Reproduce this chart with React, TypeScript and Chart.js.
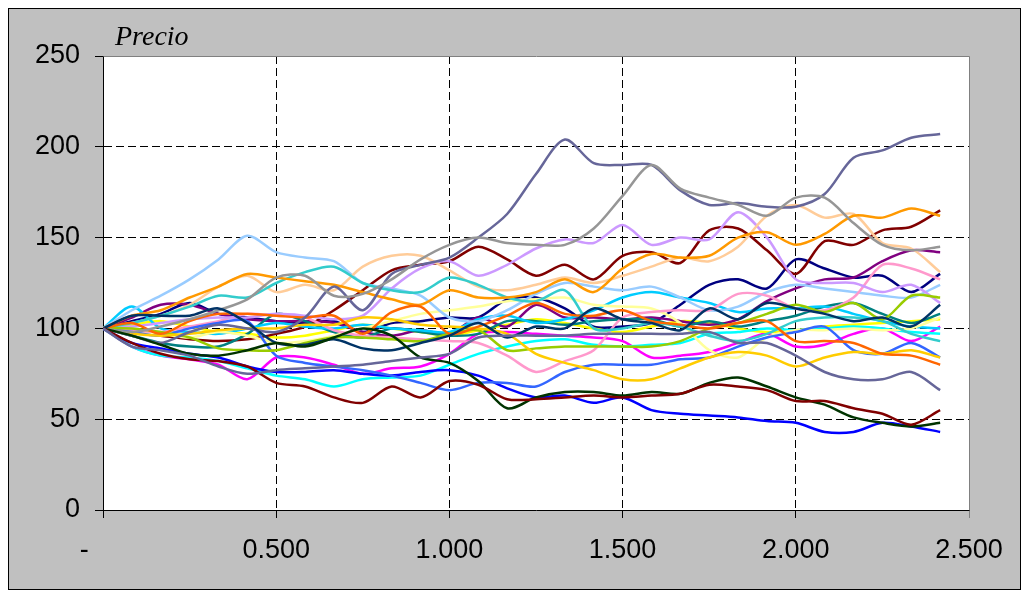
import React, { useEffect, useRef } from "react";
import { Chart, registerables } from "chart.js";

Chart.register(...registerables);

// time in years (monthly steps)
const timeYears = [0, 0.0833, 0.1667, 0.25, 0.3333, 0.4167, 0.5, 0.5833, 0.6667, 0.75, 0.8333, 0.9167, 1.0, 1.0833, 1.1667, 1.25, 1.3333, 1.4167, 1.5, 1.5833, 1.6667, 1.75, 1.8333, 1.9167, 2.0, 2.0833, 2.1667, 2.25, 2.3333, 2.4167];

const yTicks = [0, 50, 100, 150, 200, 250];
const xTicks = [0, 0.5, 1.0, 1.5, 2.0, 2.5];

const pathNavy = [100, 104, 108, 114, 108, 106, 104, 103, 104, 98, 103, 104, 106, 106, 116, 117, 111, 101, 101, 103, 113, 124, 127, 122, 138, 133, 128, 129, 120, 130];
const pathMagenta = [100, 90, 85, 83, 80, 72, 84, 84, 80, 75, 78, 79, 86, 97, 98, 97, 96, 95, 93, 84, 85, 87, 92, 97, 90, 91, 97, 100, 93, 101];
const pathYellow = [100, 102, 104, 101, 98, 97, 95, 96, 99, 102, 100, 98, 96, 99, 102, 105, 103, 100, 98, 101, 104, 103, 100, 98, 99, 101, 102, 103, 104, 105];
const pathCyan = [100, 90, 85, 84, 82, 78, 74, 72, 68, 72, 73, 74, 80, 86, 90, 93, 94, 91, 90, 91, 92, 97, 98, 100, 99, 100, 101, 100, 98, 97];
const pathPurple = [100, 106, 113, 113, 108, 105, 104, 104, 103, 98, 96, 99, 97, 106, 101, 113, 106, 106, 105, 106, 104, 102, 105, 115, 122, 127, 128, 137, 143, 142];
const pathDarkRed = [100, 98, 96, 94, 93, 94, 97, 101, 110, 121, 132, 135, 137, 145, 138, 129, 135, 127, 140, 142, 136, 154, 155, 143, 130, 148, 146, 154, 156, 165];
const pathTeal = [100, 96, 92, 90, 90, 97, 108, 104, 98, 95, 100, 98, 96, 97, 104, 104, 102, 104, 105, 105, 101, 104, 101, 104, 107, 112, 114, 108, 103, 108];
const pathBlue = [100, 92, 89, 86, 84, 79, 76, 76, 77, 75, 74, 76, 77, 74, 67, 62, 63, 59, 62, 55, 53, 52, 51, 49, 48, 43, 43, 48, 46, 43];
const pathSkyBlue = [100, 112, 100, 98, 97, 100, 103, 101, 100, 102, 100, 99, 98, 105, 107, 103, 105, 110, 117, 120, 117, 114, 109, 111, 111, 112, 108, 104, 101, 100];
const pathLightYellow = [100, 98, 97, 95, 98, 96, 92, 93, 96, 100, 104, 108, 110, 112, 115, 116, 117, 113, 112, 111, 103, 88, 84, 95, 99, 99, 100, 99, 100, 106];
const pathPaleBlue = [100, 110, 118, 127, 138, 151, 142, 139, 137, 125, 122, 118, 106, 104, 110, 119, 125, 123, 121, 123, 117, 110, 112, 120, 124, 122, 120, 118, 117, 124];
const pathRose = [100, 99, 98, 101, 104, 108, 107, 106, 99, 96, 95, 94, 93, 92, 85, 76, 82, 88, 106, 109, 110, 110, 119, 118, 111, 110, 117, 135, 133, 127];
const pathLavender = [100, 101, 103, 105, 106, 106, 108, 107, 105, 107, 122, 133, 137, 129, 135, 144, 149, 147, 157, 146, 150, 149, 164, 150, 127, 125, 125, 120, 124, 114];
const pathTan = [100, 103, 107, 113, 123, 129, 120, 124, 121, 134, 140, 140, 132, 123, 121, 124, 128, 125, 129, 134, 139, 137, 145, 162, 168, 161, 163, 147, 144, 131];
const pathLightBlue = [100, 98, 96, 100, 103, 104, 85, 81, 79, 77, 74, 70, 66, 70, 70, 68, 76, 80, 80, 80, 83, 84, 90, 95, 98, 101, 88, 86, 92, 84];
const pathAqua = [100, 103, 107, 112, 118, 117, 125, 131, 134, 125, 121, 120, 128, 124, 117, 115, 121, 100, 100, 103, 101, 96, 93, 97, 104, 106, 106, 104, 97, 93];
const pathLime = [100, 100, 98, 95, 89, 88, 88, 92, 95, 95, 94, 93, 97, 99, 88, 89, 90, 90, 90, 90, 93, 100, 103, 108, 113, 109, 114, 105, 118, 117];
const pathGold = [100, 97, 96, 97, 99, 100, 100, 102, 102, 106, 105, 102, 101, 100, 97, 86, 81, 77, 72, 72, 78, 84, 87, 85, 79, 84, 87, 86, 88, 84];
const pathLightOrange = [100, 107, 110, 117, 123, 130, 128, 126, 124, 120, 116, 113, 121, 117, 117, 120, 127, 120, 133, 141, 139, 140, 150, 153, 146, 152, 162, 161, 166, 162];
const pathOrange = [100, 103, 97, 104, 108, 108, 107, 106, 107, 97, 109, 112, 97, 101, 107, 114, 108, 107, 110, 104, 102, 100, 103, 104, 93, 93, 92, 86, 85, 80];
const pathBlueGray = [100, 96, 92, 98, 102, 100, 98, 106, 123, 110, 130, 135, 139, 150, 163, 185, 204, 191, 190, 190, 176, 168, 169, 167, 167, 174, 194, 198, 205, 207];
const pathGray = [100, 98, 101, 105, 110, 116, 128, 129, 118, 119, 127, 138, 146, 150, 147, 146, 146, 155, 173, 190, 177, 172, 168, 162, 172, 172, 158, 146, 143, 145];
const pathDarkTeal = [100, 107, 107, 107, 111, 103, 92, 91, 94, 89, 88, 92, 96, 103, 95, 101, 100, 111, 105, 103, 99, 111, 105, 114, 111, 108, 104, 106, 101, 113];
const pathDarkGreen = [100, 96, 91, 86, 85, 88, 92, 90, 95, 100, 96, 84, 81, 71, 56, 62, 65, 65, 63, 65, 64, 70, 73, 68, 62, 58, 51, 48, 46, 48];
const pathDarkRed2 = [100, 92, 86, 83, 82, 79, 70, 68, 62, 59, 68, 62, 71, 69, 61, 61, 62, 63, 62, 63, 64, 69, 68, 66, 60, 60, 56, 53, 47, 55];
const pathBlueGray2 = [100, 90, 88, 85, 79, 75, 77, 78, 79, 80, 82, 84, 86, 95, 96, 96, 96, 97, 97, 97, 97, 98, 92, 92, 85, 76, 72, 72, 76, 66];

const seriesList = [
  { path: pathNavy, color: "#000080" },
  { path: pathMagenta, color: "#FF00FF" },
  { path: pathYellow, color: "#FFFF00" },
  { path: pathCyan, color: "#00FFFF" },
  { path: pathPurple, color: "#800080" },
  { path: pathDarkRed, color: "#800000" },
  { path: pathTeal, color: "#008080" },
  { path: pathBlue, color: "#0000FF" },
  { path: pathSkyBlue, color: "#00CCFF" },
  { path: pathLightYellow, color: "#FFFF99" },
  { path: pathPaleBlue, color: "#99CCFF" },
  { path: pathRose, color: "#FF99CC" },
  { path: pathLavender, color: "#CC99FF" },
  { path: pathTan, color: "#FFCC99" },
  { path: pathLightBlue, color: "#3366FF" },
  { path: pathAqua, color: "#33CCCC" },
  { path: pathLime, color: "#99CC00" },
  { path: pathGold, color: "#FFCC00" },
  { path: pathLightOrange, color: "#FF9900" },
  { path: pathOrange, color: "#FF6600" },
  { path: pathBlueGray, color: "#666699" },
  { path: pathGray, color: "#969696" },
  { path: pathDarkTeal, color: "#003366" },
  { path: pathDarkGreen, color: "#003300" },
  { path: pathDarkRed2, color: "#800000" },
  { path: pathBlueGray2, color: "#666699" },
];

const TITLE = "Precio";
const AXIS_FONT = '"Liberation Sans", Arial, sans-serif';

const framePlugin = {
  id: "frame",
  beforeDraw(chart: any) {
    const { ctx, width, height, chartArea: a } = chart;
    ctx.save();
    ctx.fillStyle = "#C0C0C0";
    ctx.fillRect(0, 0, width, height);
    ctx.strokeStyle = "#000";
    ctx.lineWidth = 1;
    ctx.strokeRect(0.5, 0.5, width - 1, height - 1);
    ctx.fillStyle = "#FFFFFF";
    ctx.fillRect(a.left, a.top, a.right - a.left, a.bottom - a.top);
    ctx.restore();
  },
  beforeDatasetsDraw(chart: any) {
    const { ctx, chartArea: a } = chart;
    ctx.save();
    ctx.strokeStyle = "#808080";
    ctx.lineWidth = 1;
    ctx.beginPath();
    ctx.moveTo(Math.round(a.left) + 0.5, Math.round(a.top) + 0.5);
    ctx.lineTo(Math.round(a.right) + 0.5, Math.round(a.top) + 0.5);
    ctx.lineTo(Math.round(a.right) + 0.5, Math.round(a.bottom) + 0.5);
    ctx.stroke();
    ctx.restore();
  },
  afterDraw(chart: any) {
    const { ctx } = chart;
    ctx.save();
    ctx.fillStyle = "#000";
    ctx.font = 'italic 28px "Liberation Serif", "Times New Roman", serif';
    ctx.textBaseline = "alphabetic";
    ctx.textAlign = "left";
    ctx.fillText(TITLE, 107, 37);
    ctx.restore();
  },
};

export default function App() {
  const ref = useRef<HTMLCanvasElement | null>(null);

  useEffect(() => {
    if (!ref.current) return;
    const datasets = seriesList
      .map((s) => ({
        data: s.path.map((v, i) => ({ x: timeYears[i], y: v })),
        borderColor: s.color,
        backgroundColor: s.color,
        borderWidth: 2.5,
        pointRadius: 0,
        tension: 0.3,
        fill: false,
      }))
      .reverse();

    const chart = new Chart(ref.current, {
      type: "line",
      data: { datasets },
      plugins: [framePlugin],
      options: {
        animation: false,
        responsive: false,
        devicePixelRatio: 1,
        layout: { padding: { top: 48, right: 52, bottom: 0, left: 0 } },
        plugins: { legend: { display: false }, tooltip: { enabled: false }, title: { display: false } },
        scales: {
          x: {
            type: "linear",
            min: xTicks[0],
            max: xTicks[xTicks.length - 1],
            afterFit: (scale: any) => {
              scale.height = 80;
            },
            afterBuildTicks: (scale: any) => {
              scale.ticks = xTicks.map((v) => ({ value: v }));
            },
            ticks: {
              color: "#000",
              font: { family: AXIS_FONT, size: 27 },
              padding: 16,
              maxRotation: 0,
              autoSkip: false,
              callback: (v: any) => (Number(v) === 0 ? "-     " : Number(v).toFixed(3)),
            },
            grid: {
              color: (c: any) =>
                c.tick && (c.tick.value === 0 || c.tick.value === 2.5) ? "rgba(0,0,0,0)" : "#000",
              lineWidth: 1,
              tickLength: 8,
              tickColor: (c: any) => (c.tick && c.tick.value === 2.5 ? "#808080" : "#000"),
            },
            border: { display: true, color: "#000", width: 1, dash: [8, 4] },
          },
          y: {
            type: "linear",
            min: yTicks[0],
            max: yTicks[yTicks.length - 1],
            afterFit: (scale: any) => {
              scale.width = 95;
            },
            afterBuildTicks: (scale: any) => {
              scale.ticks = yTicks.map((v) => ({ value: v }));
            },
            ticks: {
              color: "#000",
              font: { family: AXIS_FONT, size: 27 },
              padding: 15,
              autoSkip: false,
              callback: (v: any) => String(v),
            },
            grid: {
              color: (c: any) =>
                c.tick && (c.tick.value === 0 || c.tick.value === 250) ? "rgba(0,0,0,0)" : "#000",
              lineWidth: 1,
              tickLength: 8,
              tickColor: "#000",
            },
            border: { display: true, color: "#000", width: 1, dash: [8, 4] },
          },
        },
      },
    } as any);
    return () => chart.destroy();
  }, []);

  return (
    <div style={{ width: 1013, height: 582 }}>
      <canvas ref={ref} width={1013} height={582} style={{ display: "block", width: 1013, height: 582 }} />
    </div>
  );
}
